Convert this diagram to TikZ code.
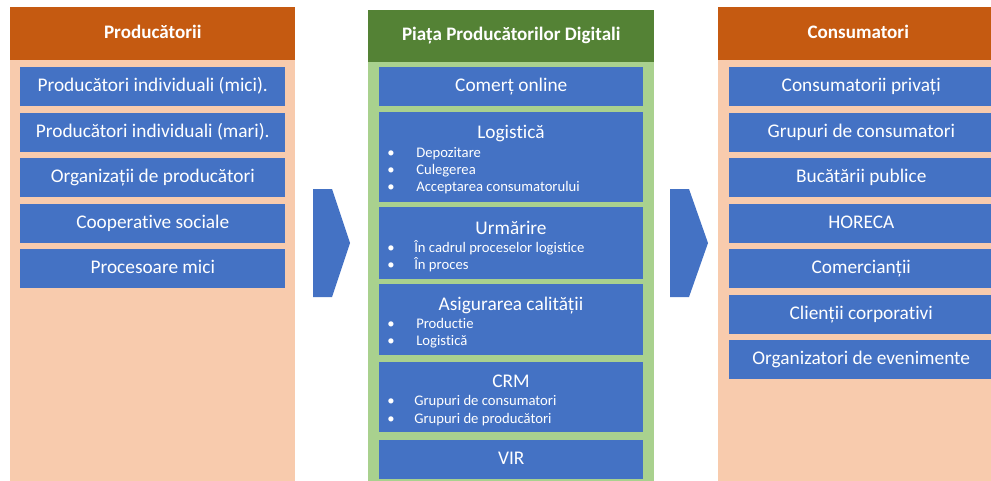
\documentclass[tikz,border=0pt]{standalone}
\usepackage{fontspec}
\setmainfont{Carlito}[Ligatures={NoCommon,NoContextual}]
\definecolor{hdrorange}{HTML}{C55A11}
\definecolor{peach}{HTML}{F8CBAD}
\definecolor{hdrgreen}{HTML}{548235}
\definecolor{lightgreen}{HTML}{A9D18E}
\definecolor{boxblue}{HTML}{4472C4}
\begin{document}
\begin{tikzpicture}[x=0.75pt,y=-0.75pt,
  panel/.style={draw=none, inner sep=0pt, anchor=north west},
  hdr/.style={panel, text=white, text height=0.8em, text depth=0.12em, font=\fontsize{14.3}{16}\selectfont\bfseries},
  bbox/.style={fill=boxblue, draw=none, inner sep=0pt, anchor=north west, text=white,
     text height=0.8em, text depth=0.12em,
     font=\fontsize{14.5}{17}\selectfont},
  ttl/.style={text=white, inner sep=0pt, anchor=base, font=\fontsize{14.5}{17}\selectfont},
  bul/.style={text=white, inner sep=0pt, anchor=base west, font=\fontsize{11}{13}\selectfont},
  arrowshape/.style={fill=boxblue, draw=none}
]
\useasboundingbox (0,0) rectangle (991,480);
\fill[white] (0,0) rectangle (991,480);

% ---------- left panel ----------
\node[panel, fill=peach, minimum width=213.75pt, minimum height=316pt] (lbody) at (10,60) {};
\node[hdr, fill=hdrorange, minimum width=213.75pt, minimum height=39.75pt] (lhdr) at (10,7) {Producătorii};
\node[bbox, minimum width=198.75pt, minimum height=29.25pt] (l1) at (20,67) {Producători individuali (mici).};
\node[bbox, minimum width=198.75pt, minimum height=29.25pt] (l2) at (20,113) {Producători individuali (mari).};
\node[bbox, minimum width=198.75pt, minimum height=29.25pt] (l3) at (20,158) {Organizații de producători};
\node[bbox, minimum width=198.75pt, minimum height=29.25pt] (l4) at (20,204) {Cooperative sociale};
\node[bbox, minimum width=198.75pt, minimum height=29.25pt] (l5) at (20,249) {Procesoare mici};

% ---------- middle panel ----------
\node[panel, fill=lightgreen, minimum width=214.5pt, minimum height=316pt] (mbody) at (368,62) {};
\node[hdr, fill=hdrgreen, minimum width=214.5pt, minimum height=39pt] (mhdr) at (368,10) {Piața Producătorilor Digitali};
\node[bbox, minimum width=198pt, minimum height=29.25pt] (m1) at (379,67) {Comerț online};
\node[bbox, minimum width=198pt, minimum height=67.5pt] (m2) at (379,112) {};
\node[ttl] (m2t) at (511,138) {Logistică};
\node[bul] (m2b1) at (387,157) {•};
\node[bul] (m2a) at (416,157) {Depozitare};
\node[bul] (m2b2) at (387,174) {•};
\node[bul] (m2b) at (416,174) {Culegerea};
\node[bul] (m2b3) at (387,191) {•};
\node[bul] (m2c) at (416,191) {Acceptarea consumatorului};

\node[bbox, minimum width=198pt, minimum height=54pt] (m3) at (379,207) {};
\node[ttl] (m3t) at (511,234) {Urmărire};
\node[bul] (m3b1) at (387,252) {•};
\node[bul] (m3a) at (414,252) {În cadrul proceselor logistice};
\node[bul] (m3b2) at (387,269) {•};
\node[bul] (m3b) at (414,269) {În proces};

\node[bbox, minimum width=198pt, minimum height=53.25pt] (m4) at (379,284) {};
\node[ttl] (m4t) at (511,310) {Asigurarea calității};
\node[bul] (m4b1) at (387,328) {•};
\node[bul] (m4a) at (416,328) {Productie};
\node[bul] (m4b2) at (387,345) {•};
\node[bul] (m4b) at (416,345) {Logistică};

\node[bbox, minimum width=198pt, minimum height=52.5pt] (m5) at (379,362) {};
\node[ttl] (m5t) at (511,387) {CRM};
\node[bul] (m5b1) at (387,405) {•};
\node[bul] (m5a) at (414,405) {Grupuri de consumatori};
\node[bul] (m5b2) at (387,423) {•};
\node[bul] (m5b) at (414,423) {Grupuri de producători};

\node[bbox, minimum width=198pt, minimum height=29.25pt] (m6) at (379,440) {VIR};

% ---------- right panel ----------
\node[panel, fill=peach, minimum width=210pt, minimum height=316pt] (rbody) at (718,60) {};
\node[hdr, fill=hdrorange, minimum width=210pt, minimum height=39.75pt] (rhdr) at (718,7) {Consumatori};
\node[bbox, minimum width=198pt, minimum height=29.25pt] (r1) at (729,67) {Consumatorii privați};
\node[bbox, minimum width=198pt, minimum height=29.25pt] (r2) at (729,113) {Grupuri de consumatori};
\node[bbox, minimum width=198pt, minimum height=29.25pt] (r3) at (729,158) {Bucătării publice};
\node[bbox, minimum width=198pt, minimum height=29.25pt] (r4) at (729,204) {HORECA};
\node[bbox, minimum width=198pt, minimum height=29.25pt] (r5) at (729,249) {Comercianții};
\node[bbox, minimum width=198pt, minimum height=29.25pt] (r6) at (729,295) {Clienții corporativi};
\node[bbox, minimum width=198pt, minimum height=29.25pt] (r7) at (729,340) {Organizatori de evenimente};

% ---------- arrows ----------
\fill[arrowshape] (313,189) -- (332,189) -- (350,243) -- (332,297) -- (313,297) -- cycle;
\fill[arrowshape] (670,189) -- (689,189) -- (708,243) -- (689,297) -- (670,297) -- cycle;
\end{tikzpicture}
\end{document}
